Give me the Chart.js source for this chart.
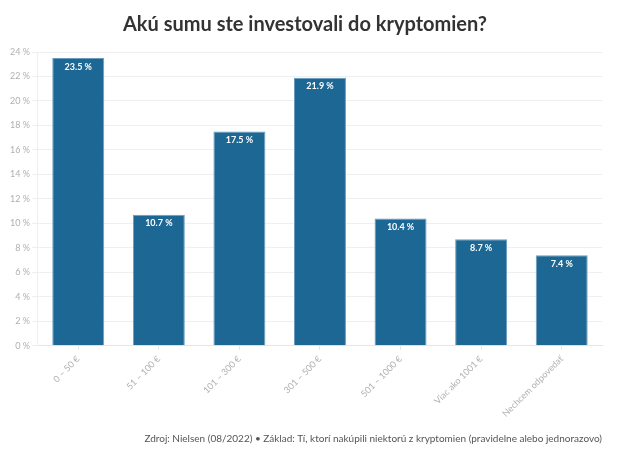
<!DOCTYPE html>
<html>
<head>
<meta charset="utf-8">
<script src="https://cdn.jsdelivr.net/npm/chart.js@4"></script>
<style>
  html, body { margin: 0; padding: 0; background: #fff; }
  #wrap { width: 620px; height: 465px; }
</style>
</head>
<body>
<div id="wrap"><canvas id="chart"></canvas></div>
<script>
// Dáta
const categories = ['0 – 50 €', '51 – 100 €', '101 – 300 €', '301 – 500 €', '501 – 1000 €', 'Viac ako 1001 €', 'Nechcem odpovedať'];
const values = [23.5, 10.7, 17.5, 21.9, 10.4, 8.7, 7.4];
const yTicks = [0, 2, 4, 6, 8, 10, 12, 14, 16, 18, 20, 22, 24];

const titleText = 'Akú sumu ste investovali do kryptomien?';
const sourceText = 'Zdroj: Nielsen (08/2022) • Základ: Tí, ktorí nakúpili niektorú z kryptomien (pravidelne alebo jednorazovo)';

// jednoduché popisky v stĺpcoch
const barLabels = {
    id: 'barLabels',
    afterDatasetsDraw(chart) {
        const ctx = chart.ctx;
        const meta = chart.getDatasetMeta(0);
        ctx.save();
        ctx.fillStyle = '#ffffff';
        ctx.font = 'bold 9px Lato';
        ctx.textAlign = 'center';
        ctx.textBaseline = 'top';
        meta.data.forEach((bar, i) => {
            ctx.fillText(values[i].toFixed(1) + ' %', bar.x, bar.y + 4);
        });
        ctx.restore();
    }
};

new Chart(document.getElementById('chart').getContext('2d'), {
    type: 'bar',
    data: {
        labels: categories,
        datasets: [{
            data: values,
            backgroundColor: '#1d6794',
            borderColor: '#6b9cc0',
            borderWidth: 1,
            categoryPercentage: 1,
            barPercentage: 0.645
        }]
    },
    options: {
        responsive: true,
        maintainAspectRatio: false,
        animation: false,
        layout: { padding: { left: 8, right: 18, top: 4, bottom: 6 } },
        plugins: {
            legend: { display: false },
            tooltip: { enabled: false },
            title: {
                display: true,
                text: titleText,
                color: '#333333',
                font: { family: 'Lato', size: 20, weight: 'bold' },
                padding: { top: 9, bottom: 15 }
            },
            subtitle: {
                display: true,
                text: sourceText,
                position: 'bottom',
                align: 'end',
                color: '#555555',
                font: { family: 'Lato', size: 10 },
                padding: { top: 10, bottom: 14 }
            }
        },
        scales: {
            x: {
                grid: { display: true, drawOnChartArea: false, offset: false, tickLength: 4, color: '#e6e6e6' },
                border: { color: '#e6e6e6' },
                ticks: {
                    color: '#b0b0b0',
                    font: { family: 'Lato', size: 9 },
                    minRotation: 45,
                    maxRotation: 45,
                    padding: 4
                }
            },
            y: {
                min: 0,
                max: 24,
                afterBuildTicks(axis) { axis.ticks = yTicks.map(v => ({ value: v })); },
                grid: { color: '#efefef', tickLength: 6 },
                border: { color: '#efefef' },
                ticks: {
                    color: '#b0b0b0',
                    font: { family: 'Lato', size: 9 },
                    padding: 2,
                    callback: v => v + ' %'
                }
            }
        }
    },
    plugins: [barLabels]
});
</script>
</body>
</html>
